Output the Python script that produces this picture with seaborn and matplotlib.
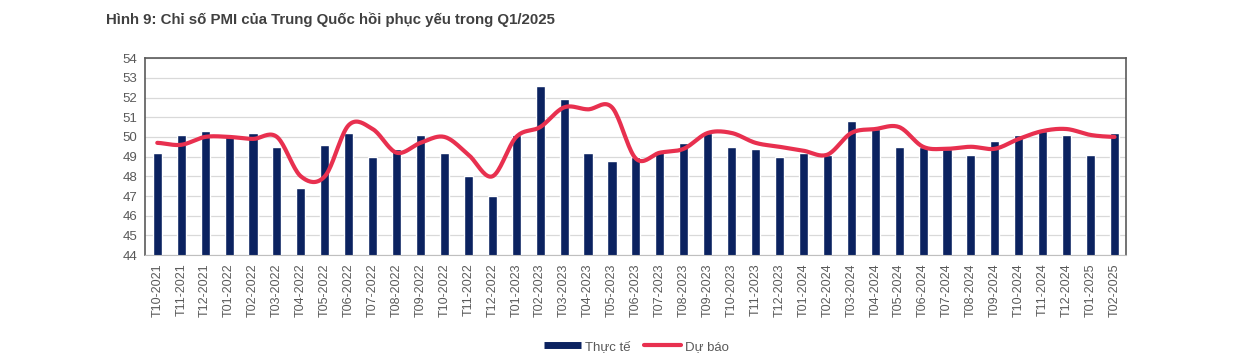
import numpy as np
import pandas as pd
import matplotlib
matplotlib.use("Agg")
import matplotlib.pyplot as plt
import seaborn as sns
from matplotlib.lines import Line2D

months = ["T10-2021", "T11-2021", "T12-2021",
          "T01-2022", "T02-2022", "T03-2022", "T04-2022", "T05-2022", "T06-2022",
          "T07-2022", "T08-2022", "T09-2022", "T10-2022", "T11-2022", "T12-2022",
          "T01-2023", "T02-2023", "T03-2023", "T04-2023", "T05-2023", "T06-2023",
          "T07-2023", "T08-2023", "T09-2023", "T10-2023", "T11-2023", "T12-2023",
          "T01-2024", "T02-2024", "T03-2024", "T04-2024", "T05-2024", "T06-2024",
          "T07-2024", "T08-2024", "T09-2024", "T10-2024", "T11-2024", "T12-2024",
          "T01-2025", "T02-2025"]
actual = [49.2, 50.1, 50.3,
          50.1, 50.2, 49.5, 47.4, 49.6, 50.2,
          49.0, 49.4, 50.1, 49.2, 48.0, 47.0,
          50.1, 52.6, 51.9, 49.2, 48.8, 49.0,
          49.3, 49.7, 50.2, 49.5, 49.4, 49.0,
          49.2, 49.1, 50.8, 50.4, 49.5, 49.5,
          49.4, 49.1, 49.8, 50.1, 50.3, 50.1,
          49.1, 50.2]
forecast = [49.7, 49.6, 50.0,
            50.0, 49.9, 50.0, 48.0, 48.0, 50.6,
            50.4, 49.2, 49.7, 50.0, 49.1, 48.0,
            50.0, 50.5, 51.5, 51.4, 51.5, 48.9,
            49.2, 49.4, 50.2, 50.2, 49.7, 49.5,
            49.3, 49.1, 50.2, 50.4, 50.5, 49.5,
            49.4, 49.5, 49.4, 49.9, 50.3, 50.4,
            50.1, 50.0]

BAR_C = "#0b2260"
LINE_C = "#e8304f"
TXT_C = "#595959"

sns.set_theme(style="white")
plt.rcParams["font.family"] = ["Liberation Sans", "DejaVu Sans"]

df = pd.DataFrame({"month": months, "actual": actual, "forecast": forecast})


def catmull_rom(y, n=20):
    # smooth curve through the points, like Excel's "smoothed line"
    y = np.asarray(y, dtype=float)
    p = np.concatenate([[y[0]], y, [y[-1]]])
    xs, ys = [], []
    for i in range(len(y) - 1):
        p0, p1, p2, p3 = p[i], p[i + 1], p[i + 2], p[i + 3]
        t = np.linspace(0, 1, n, endpoint=False)
        v = 0.5 * ((2 * p1) + (-p0 + p2) * t + (2 * p0 - 5 * p1 + 4 * p2 - p3) * t ** 2
                   + (-p0 + 3 * p1 - 3 * p2 + p3) * t ** 3)
        xs.append(i + t)
        ys.append(v)
    xs.append([len(y) - 1])
    ys.append([y[-1]])
    return np.concatenate(xs), np.concatenate(ys)


fig = plt.figure(figsize=(12.42, 3.63), dpi=100)
ax = fig.add_axes([0.117, 0.297, 0.790, 0.543])

sns.barplot(data=df, x="month", y="actual", color=BAR_C, width=0.38,
            saturation=1, ax=ax, zorder=2)
sx, sy = catmull_rom(df["forecast"])
sns.lineplot(x=sx, y=sy, color=LINE_C, lw=3, ax=ax, zorder=3, sort=False)

ax.set_ylim(44, 54)
ax.set_yticks(range(44, 55))
ax.set_xlim(-0.5, len(months) - 0.5)
ax.yaxis.grid(True, color="#d9d9d9", lw=0.9, zorder=0)
ax.set_axisbelow(True)
ax.set_xlabel("")
ax.set_ylabel("")
ax.set_xticks(range(len(months)))
ax.set_xticklabels(months, rotation=90, fontsize=9, color=TXT_C)
ax.tick_params(axis="y", labelsize=9.5, colors=TXT_C, length=0, pad=6)
ax.tick_params(axis="x", length=0, pad=6)
# category separators below axis
ax.set_xticks(np.arange(-0.5, len(months), 1), minor=True)
ax.tick_params(axis="x", which="minor", length=5, color="#bfbfbf", width=0.8)

for side in ["top", "right", "left"]:
    ax.spines[side].set_color("#5a5a5a")
    ax.spines[side].set_linewidth(1.2)
ax.spines["bottom"].set_color("#bfbfbf")
ax.spines["bottom"].set_linewidth(0.8)

handles = [Line2D([0], [0], color=BAR_C, lw=5, solid_capstyle="butt"),
           Line2D([0], [0], color=LINE_C, lw=3)]
fig.legend(handles, ["Thực tế", "Dự báo"], loc="center", ncol=2,
           bbox_to_anchor=(0.5125, 0.045), frameon=False, fontsize=9.5,
           handlelength=2.8, handletextpad=0.3, columnspacing=1.0,
           labelcolor=TXT_C)

fig.text(0.085, 0.945, "Hình 9: Chỉ số PMI của Trung Quốc hồi phục yếu trong Q1/2025",
         fontsize=10.8, fontweight="bold", color="#404040", ha="left", va="center")

fig.savefig("out.png", dpi=100, facecolor="white")
